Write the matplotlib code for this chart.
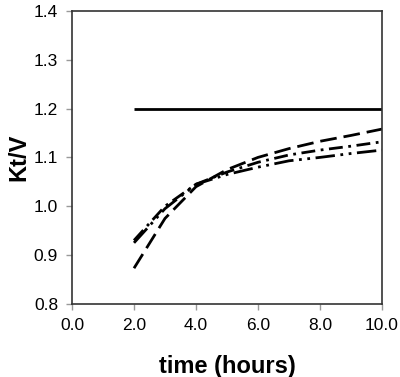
import matplotlib
matplotlib.use("Agg")
import matplotlib.pyplot as plt

# data
hours = [2, 3, 4, 5, 6, 7, 8, 9, 10]
target = [1.2, 1.2, 1.2, 1.2, 1.2, 1.2, 1.2, 1.2, 1.2]
long_dash = [0.873, 0.975, 1.04, 1.075, 1.10, 1.118, 1.133, 1.145, 1.158]
dash_dot = [0.93, 1.00, 1.045, 1.07, 1.09, 1.105, 1.115, 1.123, 1.132]
dash_dot_dot = [0.925, 0.995, 1.045, 1.065, 1.08, 1.093, 1.10, 1.108, 1.115]

plt.rcParams["font.family"] = ["Liberation Sans", "DejaVu Sans"]

fig = plt.figure(figsize=(4.0, 3.77), dpi=100)
ax = fig.add_axes([0.18, 0.194, 0.775, 0.777])

ax.plot(hours, target, color="black", lw=2.0, solid_capstyle="butt")
ax.plot(hours, long_dash, color="black", lw=2.0, linestyle=(0, (6, 2.5)))
ax.plot(hours, dash_dot, color="black", lw=2.0, linestyle=(0, (5, 2, 1, 2)))
ax.plot(hours, dash_dot_dot, color="black", lw=2.0, linestyle=(0, (7, 2, 1, 2, 1, 2)))

ax.set_xlim(0, 10)
ax.set_ylim(0.8, 1.4)
ax.set_xticks([0, 2, 4, 6, 8, 10])
ax.set_xticklabels(["0.0", "2.0", "4.0", "6.0", "8.0", "10.0"])
ax.set_yticks([0.8, 0.9, 1.0, 1.1, 1.2, 1.3, 1.4])
ax.set_yticklabels(["0.8", "0.9", "1.0", "1.1", "1.2", "1.3", "1.4"])
ax.tick_params(direction="out", length=4, width=1, color="#999999", labelsize=12.5, pad=6)

for s in ax.spines.values():
    s.set_color("#333333")
    s.set_linewidth(1.2)

ax.set_xlabel("time (hours)", fontsize=17, fontweight="bold")
ax.set_ylabel("Kt/V", fontsize=17, fontweight="bold")
ax.xaxis.set_label_coords(0.5, -0.175)
ax.yaxis.set_label_coords(-0.135, 0.5)

fig.savefig("out.png", dpi=100)
